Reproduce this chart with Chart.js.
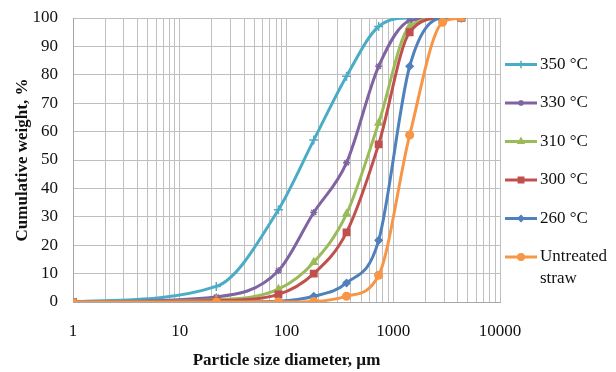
<!DOCTYPE html>
<html>
<head>
<meta charset="utf-8">
<script src="https://cdn.jsdelivr.net/npm/chart.js@4/dist/chart.umd.min.js"></script>
<style>
  html, body { margin: 0; padding: 0; background: #fff; }
  #wrap { width: 616px; height: 372px; }
</style>
</head>
<body>
<div id="wrap"><canvas id="psdChart" width="616" height="372"></canvas></div>
<script>
// particle sizes (µm) and cumulative weight (%)
var sizes = [1, 22, 84, 180, 365, 730, 1425, 2900, 4350];
var t350 = [0, 5.5, 32.5, 57, 79.5, 97, 100, 100, 100];
var t330 = [0, 1.8, 11, 31.5, 49, 83, 99, 100, 100];
var t310 = [0, 0.8, 4.5, 14, 31, 63, 97, 100, 100];
var t300 = [0, 0.5, 2.7, 10, 24.5, 55.5, 95, 100, 100];
var t260 = [0, 0, 0.3, 2, 6.7, 21.7, 83, 100, 100];
var untreated = [0, 0, 0, 0.2, 2, 9.4, 58.8, 98.5, 100];

var seriesLabels = ['350 °C', '330 °C', '310 °C', '300 °C', '260 °C', ['Untreated', 'straw']];
var xTicks = [1, 10, 100, 1000, 10000];

var serif = "'Liberation Serif', 'Times New Roman', serif";

function pts(vals) {
	return sizes.map(function (s, i) { return { x: s, y: vals[i] }; });
}

function makeSet(label, vals, color, style, radius, idx) {
	return {
		label: Array.isArray(label) ? label.join(' ') : label,
		legendText: label,
		data: pts(vals),
		borderColor: color,
		backgroundColor: color,
		pointBorderColor: color,
		pointBackgroundColor: color,
		borderWidth: 3,
		pointStyle: style,
		pointRadius: radius,
		pointBorderWidth: 1.5,
		cubicInterpolationMode: 'monotone',
		fill: false,
		order: 6 - idx
	};
}

var sets = [
	makeSet(seriesLabels[0], t350, '#4BACC6', 'cross', 4.5, 0),
	makeSet(seriesLabels[1], t330, '#8064A2', 'star', 3.5, 1),
	makeSet(seriesLabels[2], t310, '#9BBB59', 'triangle', 4, 2),
	makeSet(seriesLabels[3], t300, '#C0504D', 'rect', 4.5, 3),
	makeSet(seriesLabels[4], t260, '#4F81BD', 'rectRot', 3.5, 4),
	makeSet(seriesLabels[5], untreated, '#F79646', ['rect', 'circle', 'circle', 'circle', 'circle', 'circle', 'circle', 'circle', 'rect'], 3.8, 5)
];

// legend drawn at the right like the original (line + marker + text)
var sideLegend = {
	id: 'sideLegend',
	afterDraw: function (chart) {
		var ctx = chart.ctx;
		var x0 = chart.chartArea.right + 5;
		var y = chart.chartArea.top + 46.5;
		ctx.save();
		chart.data.datasets.forEach(function (ds) {
			ctx.strokeStyle = ds.borderColor;
			ctx.fillStyle = ds.borderColor;
			ctx.lineWidth = 3;
			ctx.beginPath();
			ctx.moveTo(x0, y);
			ctx.lineTo(x0 + 32, y);
			ctx.stroke();
			var ps = Array.isArray(ds.pointStyle) ? ds.pointStyle[1] : ds.pointStyle;
			ctx.lineWidth = 1.5;
			Chart.helpers.drawPoint(ctx, { pointStyle: ps, radius: ds.pointRadius * 0.85, rotation: 0, borderWidth: 1.5 }, x0 + 16, y);
			ctx.fillStyle = '#111';
			ctx.font = '17px ' + serif;
			ctx.textBaseline = 'middle';
			ctx.textAlign = 'left';
			var lines = Array.isArray(ds.legendText) ? ds.legendText : [ds.legendText];
			lines.forEach(function (t, i) { ctx.fillText(t, x0 + 35, y + i * 22); });
			y += 38.5;
		});
		ctx.restore();
	}
};

var ctx = document.getElementById('psdChart').getContext('2d');
var psdChart = new Chart(ctx, {
	type: 'line',
	data: { datasets: sets },
	plugins: [sideLegend],
	options: {
		responsive: false,
		animation: false,
		layout: { padding: { top: 18, right: 116, bottom: 0, left: 0 } },
		plugins: {
			legend: { display: false },
			tooltip: { enabled: false }
		},
		scales: {
			x: {
				type: 'logarithmic',
				min: 1,
				max: 10000,
				afterFit: function (s) { s.height = 70; s.paddingTop = 0; },
				afterBuildTicks: function (s) {
					var t = [];
					for (var d = 1; d < 10000; d *= 10) {
						for (var m = 1; m < 10; m++) t.push({ value: d * m });
					}
					t.push({ value: 10000 });
					s.ticks = t;
				},
				grid: { color: '#BFBFBF', lineWidth: 1, drawTicks: false },
				border: { display: true, color: '#A6A6A6' },
				ticks: {
					autoSkip: false,
					maxRotation: 0,
					padding: 19,
					color: '#111',
					font: { family: serif, size: 17 },
					callback: function (v) { return xTicks.indexOf(v) >= 0 ? String(v) : ''; }
				},
				title: {
					display: true,
					text: 'Particle size diameter, µm',
					color: '#111',
					font: { family: serif, size: 17, weight: 'bold' },
					padding: { top: 0, bottom: 1 }
				}
			},
			y: {
				min: 0,
				max: 100,
				afterFit: function (s) { s.width = 73; s.paddingTop = 0; s.paddingBottom = 0; },
				grid: { color: '#BFBFBF', lineWidth: 1, drawTicks: false },
				border: { display: true, color: '#A6A6A6' },
				ticks: {
					stepSize: 10,
					padding: 15,
					color: '#111',
					font: { family: serif, size: 17 }
				},
				title: {
					display: true,
					text: 'Cumulative weight, %',
					color: '#111',
					font: { family: serif, size: 17, weight: 'bold' },
					padding: { top: 12, bottom: 0 }
				}
			}
		}
	}
});
</script>
</body>
</html>
